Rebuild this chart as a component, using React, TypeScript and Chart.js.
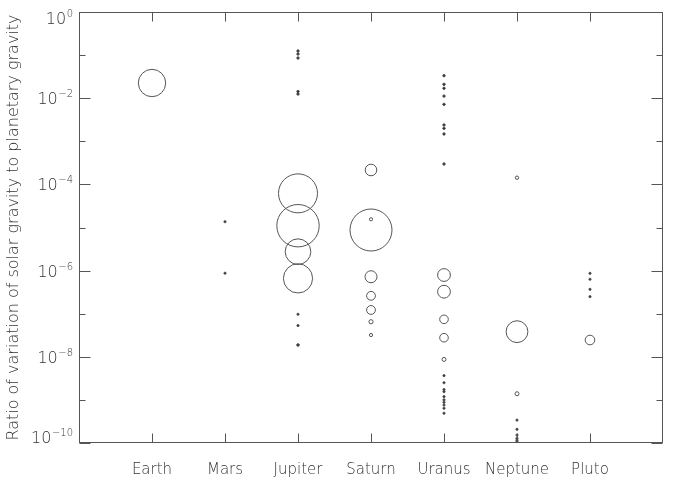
import React, { useEffect, useRef } from 'react'
import { Chart, BubbleController, registerables } from 'chart.js'

Chart.register(...registerables)

// bubble controller that does not push the plot frame inward for big bubbles
class FrameBubbleController extends BubbleController {
  static id = 'frameBubble'
  static defaults = BubbleController.defaults
  static overrides = BubbleController.overrides
  getMaxOverflow() {
    return 0 as any
  }
}
Chart.register(FrameBubbleController)

const planets = ['Earth', 'Mars', 'Jupiter', 'Saturn', 'Uranus', 'Neptune', 'Pluto']

// ratio of solar gravity variation to planetary gravity, per moon
const earthRatio = [2.25e-2]
const marsRatio = [1.36e-5, 8.7e-7]
const jupiterRatio = [0.1245, 0.106, 0.0857, 0.0143, 0.0125, 6.2e-5, 1.1e-5, 2.75e-6, 6.6e-7, 9.7e-8, 5.3e-8, 1.88e-8]
const saturnRatio = [2.16e-4, 1.55e-5, 8.75e-6, 7.2e-7, 2.6e-7, 1.22e-7, 6.5e-8, 3.2e-8]
const uranusRatio = [
  3.33e-2, 2.1e-2, 1.7e-2, 1.12e-2, 7.2e-3, 2.39e-3, 2.0e-3, 1.48e-3, 2.97e-4,
  7.9e-7, 3.24e-7, 7.4e-8, 2.77e-8, 8.7e-9,
  3.65e-9, 2.5e-9, 1.73e-9, 1.55e-9, 1.19e-9, 1e-9, 8.8e-10, 7.6e-10, 6.4e-10, 4.9e-10,
]
const neptuneRatio = [1.43e-4, 3.83e-8, 1.39e-9, 3.4e-10, 2.08e-10, 1.53e-10, 1.29e-10, 1.17e-10, 1.1e-10]
const plutoRatio = [8.65e-7, 6.3e-7, 3.68e-7, 2.48e-7, 2.45e-8]

// moon size, as bubble radius
const earthSize = [13.7]
const marsSize = [1.1, 1.1]
const jupiterSize = [1.2, 1.2, 1.2, 1.2, 1.2, 19.5, 21.2, 12.8, 14.6, 1.1, 1.1, 1.3]
const saturnSize = [5.8, 1.6, 21, 6, 4.4, 4.4, 2.1, 1.6]
const uranusSize = [
  1.2, 1.2, 1.2, 1.2, 1.2, 1.2, 1.2, 1.2, 1.2,
  6.4, 6.4, 4.3, 4.3, 2,
  1.1, 1.1, 1.1, 1.1, 1.1, 1.1, 1.1, 1.1, 1.1, 1.1,
]
const neptuneSize = [1.7, 10.9, 2, 1.1, 1.1, 1.1, 1.1, 1.1, 1.1]
const plutoSize = [1.1, 1.1, 1.1, 1.1, 4.8]

const ratios = [earthRatio, marsRatio, jupiterRatio, saturnRatio, uranusRatio, neptuneRatio, plutoRatio]
const sizes = [earthSize, marsSize, jupiterSize, saturnSize, uranusSize, neptuneSize, plutoSize]

const decades = [-10, -9, -8, -7, -6, -5, -4, -3, -2, -1, 0]

const lineColor = '#555'
const textColor = '#333'
const fontFamily = '"DejaVu Sans", sans-serif'
const fontWeight = 200

const framePlugin = {
  id: 'frame',
  afterDatasetsDraw(chart: any) {
    const { ctx, chartArea: a, scales } = chart
    const l = Math.round(a.left) + 0.5
    const r = Math.round(a.right) - 0.5
    const t = Math.round(a.top) + 0.5
    const b = Math.round(a.bottom) - 0.5
    ctx.save()
    ctx.strokeStyle = lineColor
    ctx.lineWidth = 1
    ctx.strokeRect(l, t, r - l, b - t)
    ctx.beginPath()
    scales.x.ticks.forEach((tk: any) => {
      const px = Math.round(scales.x.getPixelForValue(tk.value)) + 0.5
      ctx.moveTo(px, b)
      ctx.lineTo(px, b - 9)
      ctx.moveTo(px, t)
      ctx.lineTo(px, t + 9)
    })
    scales.y.ticks.forEach((tk: any) => {
      const e = Math.round(Math.log10(tk.value))
      const len = e % 2 === 0 ? 11 : 6
      const py = Math.round(scales.y.getPixelForValue(tk.value)) + 0.5
      ctx.moveTo(l, py)
      ctx.lineTo(l + len, py)
      ctx.moveTo(r, py)
      ctx.lineTo(r - len, py)
    })
    ctx.stroke()

    // power-of-ten labels, kept inside the axis range
    ctx.fillStyle = textColor
    ctx.textBaseline = 'alphabetic'
    ctx.textAlign = 'right'
    scales.y.ticks.forEach((tk: any) => {
      const e = Math.round(Math.log10(tk.value))
      if (e % 2 !== 0) return
      const py = scales.y.getPixelForValue(tk.value)
      const base = Math.min(Math.max(py + 6, a.top + 12), a.bottom)
      const exp = e === 0 ? '0' : '\u2212' + String(-e)
      ctx.font = `${fontWeight} 10px ${fontFamily}`
      const expW = ctx.measureText(exp).width
      const right = a.left - 6
      ctx.fillText(exp, right, base - 7)
      ctx.font = `${fontWeight} 16px ${fontFamily}`
      ctx.fillText('10', right - expW - 0.5, base)
    })
    ctx.restore()
  },
}

const MoonGravityChart = () => {
  const chartRef = useRef<HTMLCanvasElement>(null)

  useEffect(() => {
    document.body.style.margin = '0'

    const points = planets.flatMap((_, i) =>
      ratios[i].map((v, j) => ({ x: i + 1, y: v, r: sizes[i][j] }))
    )

    const chartInstance = new Chart(chartRef.current as HTMLCanvasElement, {
      type: 'frameBubble',
      data: {
        datasets: [
          {
            data: points,
            borderColor: lineColor,
            borderWidth: 1,
            backgroundColor: (c: any) => (c.raw && c.raw.r < 1.5 ? '#222' : 'rgba(0,0,0,0)'),
            hoverRadius: 0,
            clip: false,
          },
        ],
      },
      options: {
        animation: false,
        responsive: true,
        maintainAspectRatio: false,
        layout: { padding: { top: 12, right: 12, left: 0, bottom: 0 } },
        plugins: {
          legend: { display: false },
          tooltip: { enabled: false },
        },
        scales: {
          x: {
            type: 'linear',
            min: 0,
            max: 8,
            grid: { display: false },
            border: { display: false },
            afterBuildTicks: (scale: any) => {
              scale.ticks = planets.map((_, i) => ({ value: i + 1 }))
            },
            afterFit: (scale: any) => {
              scale.height = 37
              scale.paddingLeft = 0
              scale.paddingRight = 0
            },
            ticks: {
              autoSkip: false,
              maxRotation: 0,
              padding: 10,
              color: textColor,
              font: { family: fontFamily, size: 15, weight: fontWeight },
              callback: (v: any) => planets[Number(v) - 1] ?? '',
            },
          },
          y: {
            type: 'logarithmic',
            min: 1e-10,
            max: 1,
            grid: { display: false },
            border: { display: false },
            afterBuildTicks: (scale: any) => {
              scale.ticks = decades.map((e) => ({ value: Math.pow(10, e) }))
            },
            afterFit: (scale: any) => {
              scale.width = 79
              scale.paddingTop = 0
              scale.paddingBottom = 0
            },
            ticks: { display: false },
            title: {
              display: true,
              text: 'Ratio of variation of solar gravity to planetary gravity',
              color: textColor,
              font: { family: fontFamily, size: 16, weight: fontWeight },
              padding: { top: 4, bottom: 0 },
            },
          },
        },
      },
      plugins: [framePlugin],
    } as any)

    return () => {
      chartInstance.destroy()
    }
  }, [])

  return (
    <div style={{ width: 675, height: 480, position: 'relative' }}>
      <canvas ref={chartRef} />
    </div>
  )
}

export default function App() {
  return <MoonGravityChart />
}
